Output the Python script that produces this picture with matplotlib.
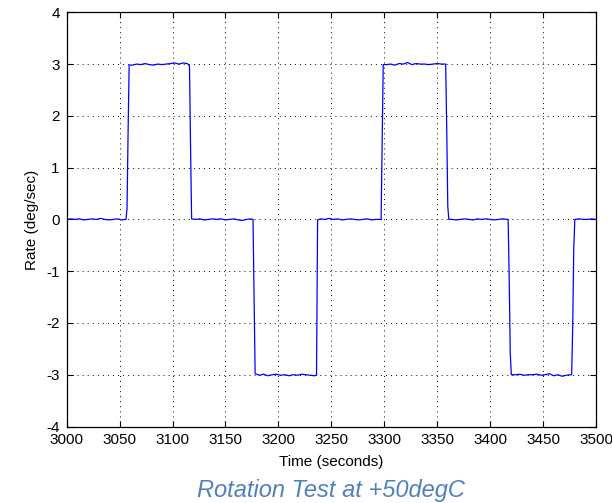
import matplotlib
matplotlib.use("Agg")
import matplotlib.pyplot as plt

plt.rcParams['font.family'] = ['Liberation Sans', 'DejaVu Sans']

# ---- data ----
time_s = [
    3000, 3004, 3008, 3012, 3016, 3020, 3024, 3028, 3032, 3036, 3040, 3044, 3048, 3052, 3056,
    3057, 3058, 3059,
    3062, 3066, 3070, 3074, 3078, 3082, 3086, 3090, 3094, 3098, 3102, 3106, 3110, 3114,
    3116, 3117, 3118,
    3122, 3126, 3130, 3134, 3138, 3142, 3146, 3150, 3154, 3158, 3162, 3166, 3170, 3174,
    3176, 3177, 3178,
    3182, 3186, 3190, 3194, 3198, 3202, 3206, 3210, 3214, 3218, 3222, 3226, 3230, 3234,
    3236, 3237,
    3240, 3244, 3248, 3252, 3256, 3260, 3264, 3268, 3272, 3276, 3280, 3284, 3288, 3292, 3296,
    3297, 3298, 3299,
    3302, 3306, 3310, 3314, 3318, 3322, 3326, 3330, 3334, 3338, 3342, 3346, 3350, 3354,
    3358, 3359, 3360, 3361,
    3364, 3368, 3372, 3376, 3380, 3384, 3388, 3392, 3396, 3400, 3404, 3408, 3412, 3416,
    3417, 3418, 3419, 3420,
    3424, 3428, 3432, 3436, 3440, 3444, 3448, 3452, 3456, 3460, 3464, 3468, 3472, 3476,
    3477, 3478, 3479, 3480,
    3484, 3488, 3492, 3496, 3500,
]
rate_dps = [
    0.00, 0.01, 0.00, 0.01, -0.01, 0.00, 0.01, 0.00, 0.02, 0.00, -0.01, 0.00, 0.01, -0.01, 0.00,
    0.21, 1.70, 2.98,
    2.98, 3.00, 2.99, 3.01, 2.99, 2.98, 3.00, 2.99, 3.00, 3.01, 3.02, 3.00, 3.02, 3.01,
    2.96, 1.40, 0.01,
    0.00, 0.01, -0.01, 0.00, 0.01, 0.00, 0.01, -0.01, 0.00, 0.01, -0.01, -0.02, 0.00, 0.01,
    0.00, -1.49, -2.98,
    -3.01, -2.99, -3.02, -3.00, -2.99, -3.01, -3.00, -3.02, -3.00, -3.01, -2.99, -3.00, -3.01, -3.02,
    -3.01, -0.01,
    0.01, 0.00, 0.02, 0.00, 0.01, -0.01, 0.00, 0.01, 0.00, -0.01, 0.00, 0.01, -0.01, 0.00, 0.00,
    0.00, 1.43, 2.99,
    2.99, 3.00, 2.98, 3.01, 3.00, 3.03, 2.99, 3.01, 3.00, 3.00, 2.99, 3.00, 3.01, 3.00,
    3.00, 1.73, 0.24, 0.00,
    0.00, -0.01, 0.00, 0.01, 0.00, -0.01, 0.01, 0.00, 0.01, 0.00, -0.01, 0.00, 0.01, 0.00,
    0.00, -1.12, -2.59, -3.00,
    -3.00, -2.99, -3.01, -3.00, -3.00, -2.99, -3.01, -3.00, -2.98, -3.02, -3.00, -3.03, -3.01, -3.00,
    -3.00, -2.06, -0.56, 0.00,
    0.01, 0.00, 0.00, 0.01, 0.00,
]
x_ticks = [3000, 3050, 3100, 3150, 3200, 3250, 3300, 3350, 3400, 3450, 3500]
y_ticks = [-4, -3, -2, -1, 0, 1, 2, 3, 4]
x_label = "Time (seconds)"
y_label = "Rate (deg/sec)"
caption = "Rotation Test at +50degC"

# ---- figure ----
W, H = 612, 503
fig = plt.figure(figsize=(W / 100, H / 100), dpi=100)
left, right, top, bottom = 66.7, 596.0, 12.3, 426.5
ax = fig.add_axes([left / W, 1 - bottom / H, (right - left) / W, (bottom - top) / H])

ax.plot(time_s, rate_dps, color=(0, 0, 1), lw=0.9)

ax.set_xlim(3000, 3500)
ax.set_ylim(-4, 4)
ax.set_xticks(x_ticks)
ax.set_yticks(y_ticks)
ax.set_xticklabels([str(v) for v in x_ticks])
ax.set_yticklabels([str(v) for v in y_ticks])

ax.grid(True, color='black', linestyle=(0, (1, 4.2)), linewidth=0.7)
for s in ax.spines.values():
    s.set_linewidth(0.9)
    s.set_color('black')

ax.tick_params(axis='both', which='both', direction='in', length=4, width=0.8,
               top=True, right=True, labelsize=11, colors='black')
ax.tick_params(axis='x', pad=5)
ax.tick_params(axis='y', pad=5)

ax.set_xlabel(x_label, fontsize=11)
ax.set_ylabel(y_label, fontsize=11)
ax.xaxis.set_label_coords(0.5, -0.07)
ax.yaxis.set_label_coords(-0.053, 0.5)

fig.text(331 / W, 1 - 497 / H, caption, ha='center', va='baseline',
         fontsize=17, style='italic', color='#4F81BD')

fig.savefig("out.png", dpi=100, facecolor='white')
